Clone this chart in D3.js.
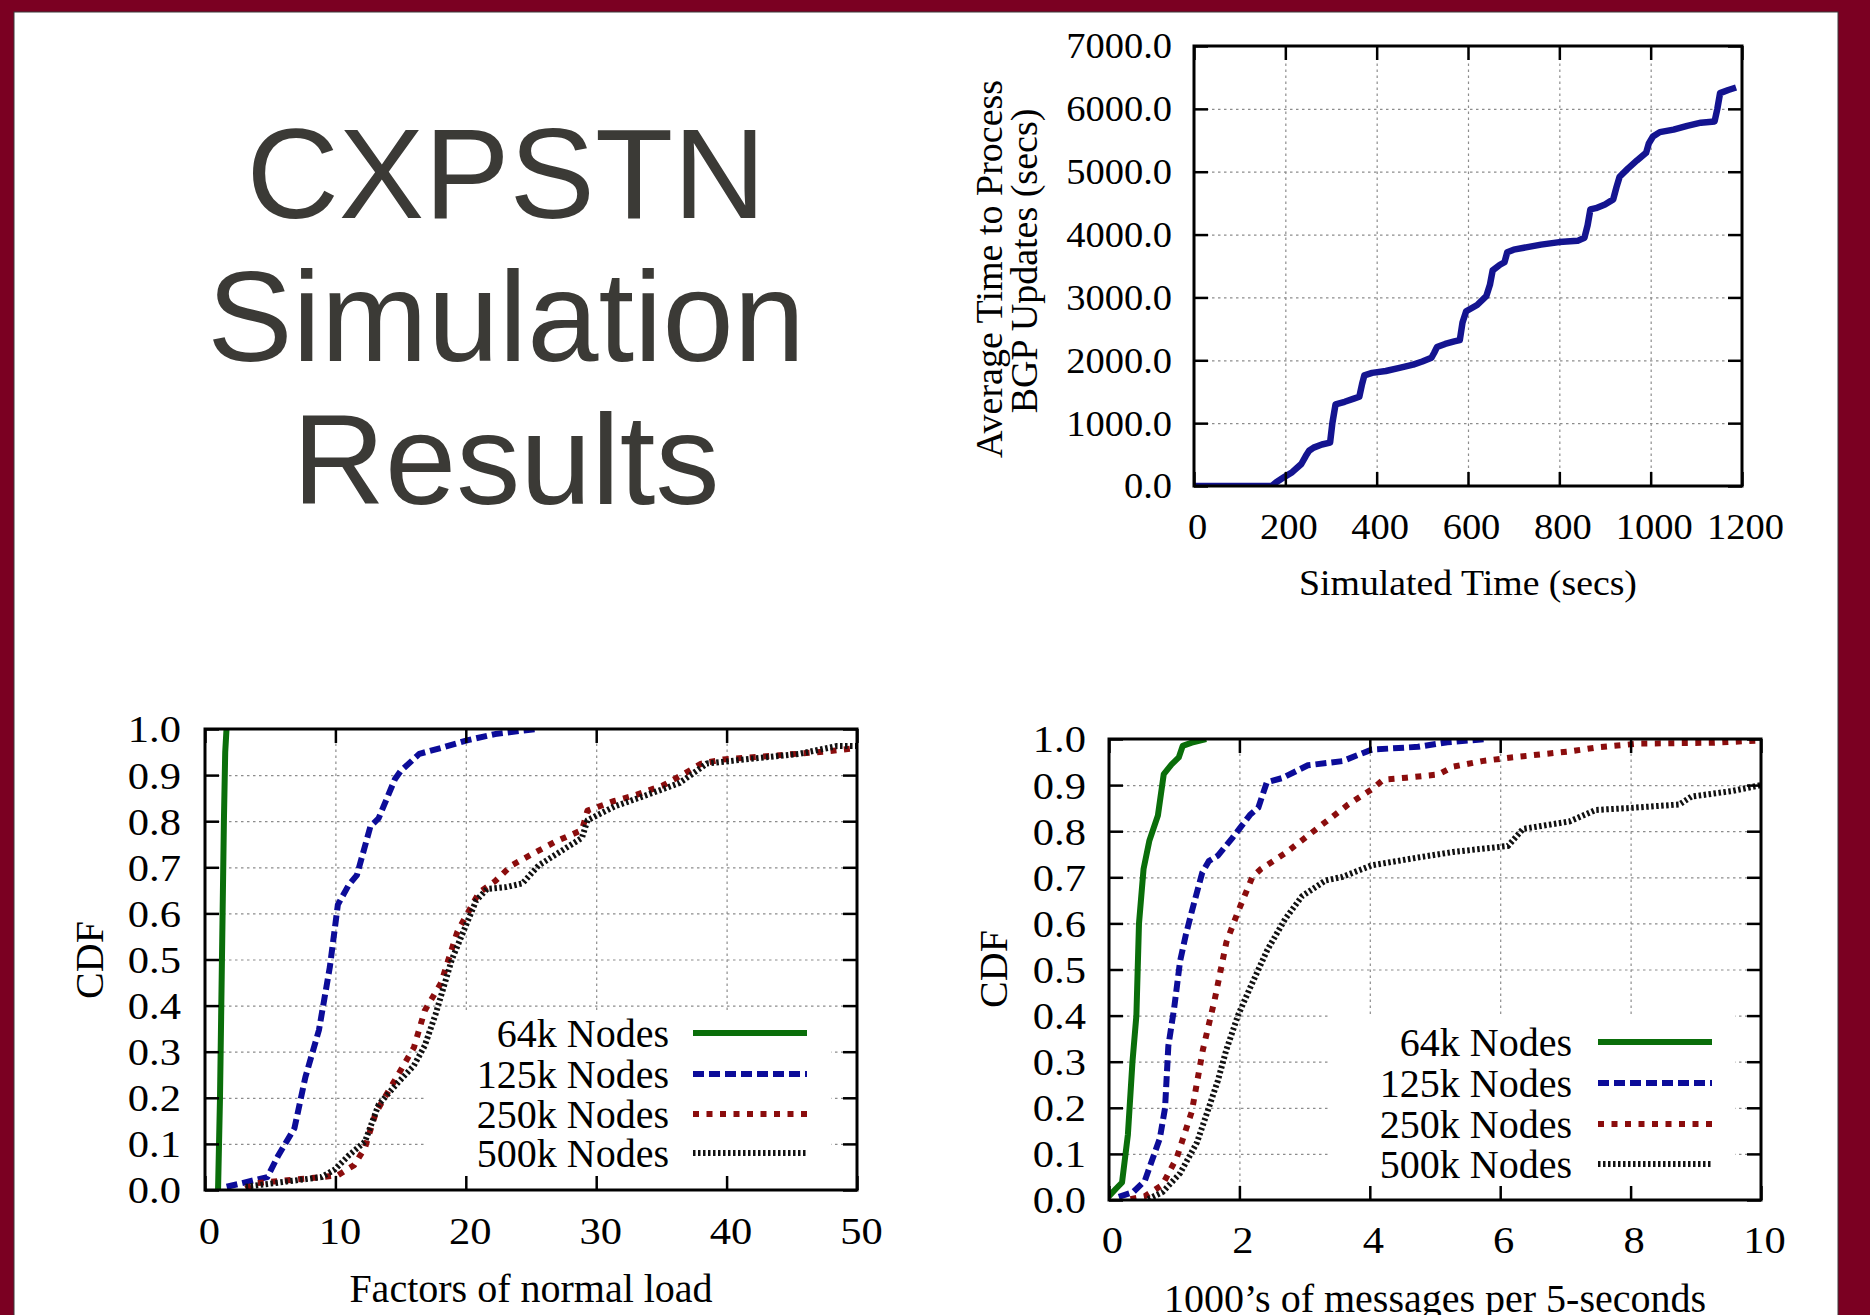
<!DOCTYPE html>
<html><head><meta charset="utf-8">
<script src="https://cdn.jsdelivr.net/npm/d3@7/dist/d3.min.js"></script>
<style>html,body{margin:0;padding:0;background:#7b0022;} svg{display:block;}</style>
</head><body>
<script>
// ---------- DATA ----------
const titleLines = ["CXPSTN", "Simulation", "Results"];

// Top-right: average time to process BGP updates vs simulated time
const bgpTime = [0,170,180,195,215,235,245,252,262,280,298,303,310,330,350,362,368,373,390,420,450,480,500,520,526,532,550,570,582,588,596,620,640,648,654,670,680,686,700,730,760,800,840,855,862,868,880,900,918,925,932,950,970,990,996,1005,1020,1050,1080,1110,1140,1146,1152,1170,1187];
const bgpAvg  = [0,0,60,130,220,350,480,560,610,660,690,1000,1300,1340,1390,1420,1620,1760,1800,1830,1880,1930,1980,2040,2120,2210,2260,2300,2320,2600,2780,2880,3020,3200,3430,3520,3560,3720,3760,3800,3840,3880,3900,3950,4150,4400,4420,4480,4560,4750,4920,5050,5180,5300,5450,5560,5630,5670,5730,5780,5800,6000,6250,6300,6340];
const bgpXTicks = [0,200,400,600,800,1000,1200];
const bgpYTicks = [0,1000,2000,3000,4000,5000,6000,7000];

const seriesNames = ["64k Nodes", "125k Nodes", "250k Nodes", "500k Nodes"];
const cdfYTicks = [0,0.1,0.2,0.3,0.4,0.5,0.6,0.7,0.8,0.9,1.0];

// Bottom-left: CDF of factors of normal load
const loadXTicks = [0,10,20,30,40,50];
const load64  = [[1.0,0.0],[1.15,0.2],[1.25,0.4],[1.35,0.6],[1.45,0.8],[1.55,0.95],[1.65,1.0]];
const load125 = [[1.66,0.007],[4.78,0.028],[5.62,0.075],[6.86,0.134],[7.7,0.245],[8.74,0.347],[9.57,0.483],[10.19,0.619],[11.03,0.662],[11.65,0.683],[12.69,0.789],[13.31,0.806],[14.56,0.891],[14.98,0.908],[16.43,0.946],[18.1,0.959],[20.17,0.976],[22.25,0.989],[25.37,1.0]];
const load250 = [[3.12,0.003],[3.95,0.015],[8.94,0.028],[10.19,0.032],[11.44,0.054],[12.27,0.092],[13.1,0.168],[14.35,0.228],[16.02,0.309],[16.85,0.389],[18.1,0.449],[19.35,0.56],[20.17,0.602],[21.01,0.645],[22.25,0.67],[23.5,0.704],[25.17,0.73],[26.83,0.755],[28.91,0.781],[29.33,0.823],[31.4,0.844],[33.07,0.857],[35.15,0.878],[36.81,0.904],[38.06,0.925],[39.72,0.934],[43.47,0.942],[47.63,0.951],[50,0.959]];
const load500 = [[3.12,0.007],[8.94,0.028],[9.98,0.045],[11.02,0.075],[12.27,0.105],[13.31,0.185],[14.77,0.232],[16.02,0.27],[16.85,0.313],[17.68,0.381],[18.93,0.5],[20.17,0.585],[20.8,0.628],[21.63,0.653],[23.09,0.657],[24.34,0.665],[25.58,0.704],[27.25,0.734],[28.91,0.764],[29.33,0.802],[31.4,0.832],[33.9,0.857],[36.4,0.883],[38.48,0.925],[41.39,0.934],[45.55,0.946],[48.46,0.963],[50,0.963]];

// Bottom-right: CDF of 1000's of messages per 5 seconds
const msgXTicks = [0,2,4,6,8,10];
const msg64  = [[0,0.008],[0.11,0.025],[0.2,0.038],[0.29,0.142],[0.36,0.3],[0.42,0.4],[0.46,0.6],[0.53,0.718],[0.62,0.78],[0.75,0.834],[0.84,0.924],[0.96,0.945],[1.07,0.96],[1.13,0.985],[1.27,0.992],[1.49,1.0]];
const msg125 = [[0.15,0.007],[0.37,0.017],[0.55,0.042],[0.78,0.134],[0.86,0.2],[0.91,0.334],[1.0,0.417],[1.09,0.518],[1.18,0.576],[1.27,0.626],[1.43,0.71],[1.53,0.735],[1.67,0.747],[1.89,0.785],[2.16,0.835],[2.29,0.851],[2.42,0.906],[2.65,0.915],[3.05,0.943],[3.58,0.952],[4.03,0.977],[4.74,0.983],[5.19,0.993],[5.81,1.0]];
const msg250 = [[0.33,0.002],[0.55,0.008],[0.82,0.033],[1.04,0.092],[1.27,0.192],[1.44,0.326],[1.62,0.434],[1.8,0.559],[1.98,0.626],[2.2,0.701],[2.33,0.718],[2.69,0.751],[3.23,0.81],[3.67,0.858],[4.03,0.891],[4.21,0.912],[4.56,0.916],[5.05,0.923],[5.28,0.94],[5.72,0.952],[6.17,0.96],[7.06,0.973],[7.5,0.982],[8.13,0.99],[9.29,0.992],[10,0.997]];
const msg500 = [[0.6,0.002],[0.82,0.017],[1.09,0.058],[1.35,0.125],[1.53,0.2],[1.67,0.259],[1.8,0.326],[1.98,0.401],[2.16,0.459],[2.43,0.543],[2.7,0.609],[2.96,0.659],[3.32,0.693],[3.58,0.701],[4.03,0.726],[4.74,0.743],[5.28,0.755],[6.12,0.768],[6.35,0.805],[7.06,0.821],[7.46,0.846],[7.95,0.85],[8.75,0.858],[8.93,0.875],[9.55,0.887],[10,0.9]];

// ---------- STYLES ----------
const seriesStyles = [
  {color:"#0a6e0a", w:6, dash:null},
  {color:"#0c0c99", w:6, dash:"11,5"},
  {color:"#8b0d0d", w:6, dash:"6,7.5"},
  {color:"#111111", w:6, dash:"2.5,2.5"}
];
const SERIF = "'Liberation Serif','Times New Roman',serif";

const W = 1870, H = 1315;
const svg = d3.select("body").append("svg").attr("width", W).attr("height", H);
svg.append("rect").attr("width", W).attr("height", H).attr("fill", "#7b0022");
svg.append("rect").attr("x", 14).attr("y", 12).attr("width", 1824).attr("height", H)
  .attr("fill", "#fff").attr("stroke", "#3a3a3a").attr("stroke-width", 1);

// ---------- TITLE ----------
svg.append("g").selectAll("text").data(titleLines).join("text")
  .attr("x", 506).attr("y", (d,i) => 218 + i*143)
  .attr("text-anchor", "middle")
  .attr("font-family", "'Liberation Sans', Arial, sans-serif")
  .attr("font-size", 128).attr("fill", "#3b3a36")
  .text(d => d);

// ---------- PANEL ----------
function panel(o) {
  const x = d3.scaleLinear().domain(o.xd).range([o.L, o.R]);
  const y = d3.scaleLinear().domain(o.yd).range([o.B, o.T]);
  const g = svg.append("g");

  // grid
  const gx = g.append("g").attr("transform", `translate(0,${o.B})`)
    .call(d3.axisBottom(x).tickValues(o.xt.slice(1, -1)).tickSize(-(o.B - o.T)).tickFormat(""));
  const gy = g.append("g").attr("transform", `translate(${o.L},0)`)
    .call(d3.axisLeft(y).tickValues(o.yt.slice(1, -1)).tickSize(-(o.R - o.L)).tickFormat(""));
  [gx, gy].forEach(s => {
    s.select(".domain").remove();
    s.selectAll("text").remove();
    s.selectAll("line").attr("stroke", "#8c8c8c").attr("stroke-width", 1.2).attr("stroke-dasharray", "2.5,3.5");
  });

  // legend backing (hides grid)
  if (o.legend) {
    g.append("rect").attr("x", o.legend.box[0]).attr("y", o.legend.box[1])
      .attr("width", o.legend.box[2] - o.legend.box[0]).attr("height", o.legend.box[3] - o.legend.box[1])
      .attr("fill", "#fff");
  }

  // data
  const cid = "clip" + o.id;
  svg.append("clipPath").attr("id", cid).append("rect")
    .attr("x", o.L).attr("y", o.T).attr("width", o.R - o.L).attr("height", o.B - o.T);
  const line = d3.line().x(d => x(d[0])).y(d => y(d[1]));
  o.series.forEach(s => {
    g.append("path").attr("d", line(s.data)).attr("clip-path", `url(#${cid})`)
      .attr("fill", "none").attr("stroke", s.color).attr("stroke-width", s.w)
      .attr("stroke-dasharray", s.dash).attr("stroke-linejoin", "round");
  });

  // ticks (inward, mirrored)
  const ts = 14;
  const ax = (gen, tr, fmt) => {
    const s = g.append("g").attr("transform", tr).call(gen.tickSize(-ts).tickFormat(fmt));
    s.select(".domain").remove();
    s.selectAll("line").attr("stroke", "#000").attr("stroke-width", 2.5);
    return s;
  };
  const bx = ax(d3.axisBottom(x).tickValues(o.xt), `translate(0,${o.B})`, o.xf);
  const tx = ax(d3.axisTop(x).tickValues(o.xt), `translate(0,${o.T})`, () => "");
  const ly = ax(d3.axisLeft(y).tickValues(o.yt), `translate(${o.L},0)`, o.yf);
  const ry = ax(d3.axisRight(y).tickValues(o.yt), `translate(${o.R},0)`, () => "");
  tx.selectAll("text").remove(); ry.selectAll("text").remove();

  bx.selectAll("text").attr("x", o.xShift / o.tsx).attr("y", o.xBase - o.B).attr("dy", null)
    .attr("font-family", SERIF).attr("font-size", o.tfs).attr("fill", "#000")
    .attr("transform", `scale(${o.tsx},1)`);
  ly.selectAll("text").attr("x", -(o.L - o.yRight) / o.tsx).attr("dy", "0.34em")
    .attr("font-family", SERIF).attr("font-size", o.tfs).attr("fill", "#000")
    .attr("text-anchor", "end")
    .attr("transform", `scale(${o.tsx},1)`);

  // border
  g.append("rect").attr("x", o.L).attr("y", o.T).attr("width", o.R - o.L).attr("height", o.B - o.T)
    .attr("fill", "none").attr("stroke", "#000").attr("stroke-width", 3);

  // x title
  g.append("text").attr("x", 0).attr("y", 0)
    .attr("transform", `translate(${(o.L + o.R) / 2},${o.xTitleBase}) scale(${o.xTitleSx},1)`)
    .attr("text-anchor", "middle").attr("font-family", SERIF).attr("font-size", o.xTitleFs)
    .attr("fill", "#000").text(o.xTitle);

  // y title (rotated, possibly multi-line)
  o.yTitle.forEach((t, i) => {
    g.append("text")
      .attr("transform", `translate(${o.yTitlePos[i][0]},${o.yTitlePos[i][1]}) rotate(-90)`)
      .attr("text-anchor", "middle").attr("font-family", SERIF).attr("font-size", o.yTitleFs)
      .attr("fill", "#000").text(t);
  });

  // legend
  if (o.legend) {
    const L = o.legend;
    const rows = g.append("g").selectAll("g").data(o.series).join("g")
      .attr("transform", (d, i) => `translate(0,${L.rows[i]})`);
    rows.append("text").attr("x", L.textRight).attr("dy", "0.34em")
      .attr("text-anchor", "end").attr("font-family", SERIF).attr("font-size", L.fs)
      .attr("fill", "#000").text(d => d.name);
    rows.append("line").attr("x1", L.s0).attr("x2", L.s1)
      .attr("stroke", d => d.color).attr("stroke-width", d => d.w).attr("stroke-dasharray", d => d.dash);
  }
}

// top-right
panel({
  id: "bgp", L: 1194, R: 1742, T: 46, B: 486,
  xd: [0, 1200], yd: [0, 7000], xt: bgpXTicks, yt: bgpYTicks,
  xf: d3.format("d"), yf: d3.format(".1f"),
  tfs: 35, tsx: 1.1, xShift: 3, xBase: 539, yRight: 1172,
  xTitle: "Simulated Time (secs)", xTitleBase: 595, xTitleFs: 35, xTitleSx: 1.08,
  yTitle: ["Average Time to Process", "BGP Updates (secs)"], yTitleFs: 38,
  yTitlePos: [[1002, 269], [1037, 261]],
  series: [{data: bgpTime.map((t, i) => [t, bgpAvg[i]]), color: "#141490", w: 6.5, dash: null}]
});

const mk = arr => arr.map((d, i) => Object.assign({data: d, name: seriesNames[i]}, seriesStyles[i]));

// bottom-left
panel({
  id: "load", L: 205, R: 857, T: 729, B: 1190,
  xd: [0, 50], yd: [0, 1], xt: loadXTicks, yt: cdfYTicks,
  xf: d3.format("d"), yf: d3.format(".1f"),
  tfs: 38, tsx: 1.12, xShift: 4, xBase: 1244, yRight: 181,
  xTitle: "Factors of normal load", xTitleBase: 1302, xTitleFs: 40, xTitleSx: 1.0,
  yTitle: ["CDF"], yTitleFs: 40, yTitlePos: [[103, 960]],
  legend: {box: [427, 1010, 831, 1186], textRight: 669, rows: [1033, 1074, 1114, 1153], s0: 693, s1: 807, fs: 40},
  series: mk([load64, load125, load250, load500])
});

// bottom-right
panel({
  id: "msg", L: 1109, R: 1761, T: 739, B: 1200,
  xd: [0, 10], yd: [0, 1], xt: msgXTicks, yt: cdfYTicks,
  xf: d3.format("d"), yf: d3.format(".1f"),
  tfs: 38, tsx: 1.12, xShift: 3, xBase: 1253, yRight: 1086,
  xTitle: "1000\u2019s of messages per 5-seconds", xTitleBase: 1312, xTitleFs: 40, xTitleSx: 1.0,
  yTitle: ["CDF"], yTitleFs: 40, yTitlePos: [[1007, 969]],
  legend: {box: [1331, 1015, 1735, 1196], textRight: 1572, rows: [1042, 1083, 1124, 1164], s0: 1598, s1: 1712, fs: 40},
  series: mk([msg64, msg125, msg250, msg500])
});
</script>
</body></html>
